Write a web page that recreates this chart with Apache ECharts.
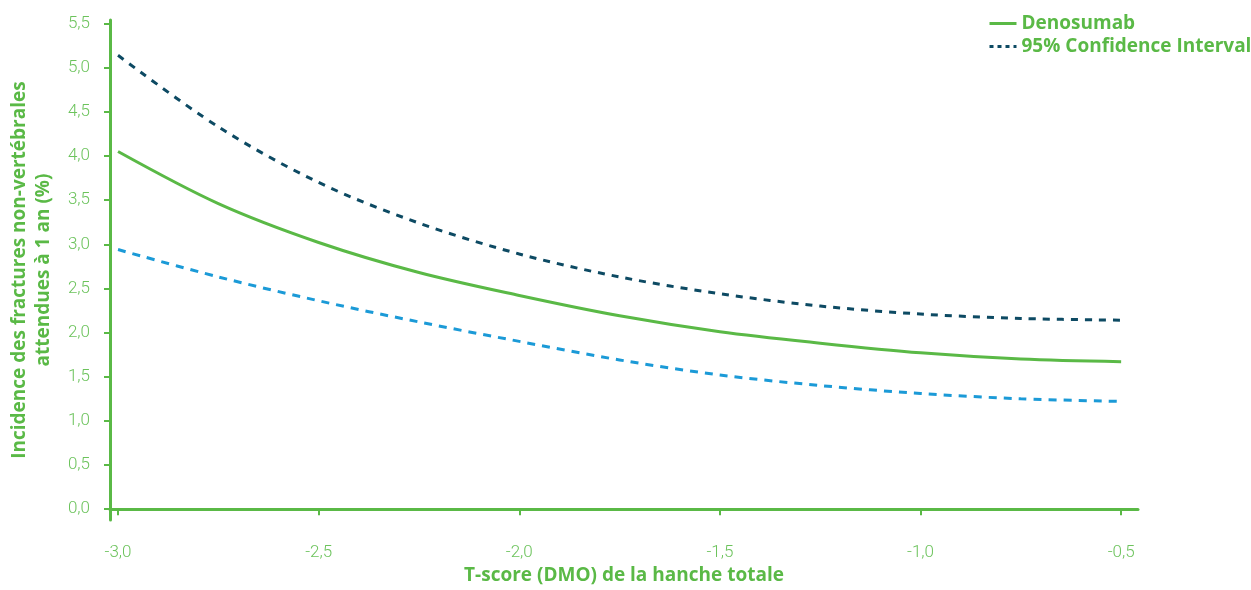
<!DOCTYPE html>
<html>
<head>
<meta charset="utf-8">
<script src="https://cdn.jsdelivr.net/npm/echarts@6/dist/echarts.min.js"></script>
<style>
    html, body { margin: 0; padding: 0; background: #fff; }
    #chart { width: 1251px; height: 590px; }
</style>
</head>
<body>
<div id="chart"></div>
<script>
// T-score values (x) and the three curves
var tScores = [-3.0, -2.75, -2.5, -2.25, -2.0, -1.75, -1.5, -1.25, -1.0, -0.75, -0.5];
var denosumab = [4.05, 3.46, 3.02, 2.68, 2.42, 2.19, 2.01, 1.88, 1.77, 1.70, 1.67];
var ciUpper = [5.14, 4.33, 3.70, 3.24, 2.89, 2.63, 2.44, 2.30, 2.21, 2.16, 2.14];
var ciLower = [2.94, 2.63, 2.36, 2.12, 1.90, 1.69, 1.52, 1.40, 1.31, 1.25, 1.22];
var xTicks = [-3.0, -2.5, -2.0, -1.5, -1.0, -0.5];
var yTicks = [0, 0.5, 1, 1.5, 2, 2.5, 3, 3.5, 4, 4.5, 5, 5.5];

var green = '#5ab946';
var labelGreen = '#6cc35c';
var navy = '#0d4a63';
var blue = '#1b9ad7';
var titleFont = 'Open Sans';

function pairs(ys) {
    return tScores.map(function (t, i) { return [t, ys[i]]; });
}
function comma(v) {
    return v.toFixed(1).replace('.', ',');
}

var chart = echarts.init(document.getElementById('chart'));
var option = {
    animation: false,
    textStyle: { fontFamily: 'Roboto' },
    grid: { left: 109, right: 113, top: 20, bottom: 68 },
    legend: {
        data: [
            { name: 'Denosumab', lineStyle: { width: 3 } },
            { name: '95% Confidence Interval', lineStyle: { width: 3, type: [4, 4] } }
        ],
        orient: 'vertical',
        left: 983,
        top: 9,
        itemWidth: 27,
        itemHeight: 14,
        itemGap: 4,
        itemStyle: { opacity: 0 },
        textStyle: { color: green, fontWeight: 'bold', fontSize: 19, fontFamily: titleFont }
    },
    xAxis: {
        type: 'value',
        min: -3.02,
        max: -0.458,
        name: 'T-score (DMO) de la hanche totale',
        nameLocation: 'middle',
        nameGap: 45,
        nameTextStyle: { color: green, fontWeight: 'bold', fontSize: 19, fontFamily: titleFont },
        splitLine: { show: false },
        axisLine: { lineStyle: { color: green, width: 3 } },
        axisTick: { customValues: xTicks, length: 6, lineStyle: { color: green, width: 2 } },
        axisLabel: {
            customValues: xTicks,
            color: labelGreen,
            fontSize: 17,
            fontWeight: 300,
            margin: 24,
            formatter: comma
        }
    },
    yAxis: {
        type: 'value',
        min: -0.124,
        max: 5.54,
        name: 'Incidence des fractures non-vertébrales\nattendues à 1 an (%)',
        nameLocation: 'middle',
        nameGap: 54,
        nameTextStyle: { color: green, fontWeight: 'bold', fontSize: 19, lineHeight: 24, fontFamily: titleFont },
        splitLine: { show: false },
        axisLine: { lineStyle: { color: green, width: 3 } },
        axisTick: { customValues: yTicks, length: 6, lineStyle: { color: green, width: 2 } },
        axisLabel: {
            customValues: yTicks,
            color: labelGreen,
            fontSize: 17,
            fontWeight: 300,
            margin: 20,
            padding: [5, 0, 0, 0],
            formatter: comma
        }
    },
    series: [
        {
            name: 'Denosumab',
            type: 'line',
            smooth: 0.33,
            symbol: 'none',
            data: pairs(denosumab),
            lineStyle: { color: green, width: 3 },
            itemStyle: { color: green }
        },
        {
            name: '95% Confidence Interval',
            type: 'line',
            smooth: 0.33,
            symbol: 'none',
            data: pairs(ciUpper),
            lineStyle: { color: navy, width: 3, type: [7, 7] },
            itemStyle: { color: navy }
        },
        {
            name: 'IC inférieur',
            type: 'line',
            smooth: 0.33,
            symbol: 'none',
            data: pairs(ciLower),
            lineStyle: { color: blue, width: 3, type: [8, 7] },
            itemStyle: { color: blue }
        }
    ]
};
chart.setOption(option);
</script>
</body>
</html>
